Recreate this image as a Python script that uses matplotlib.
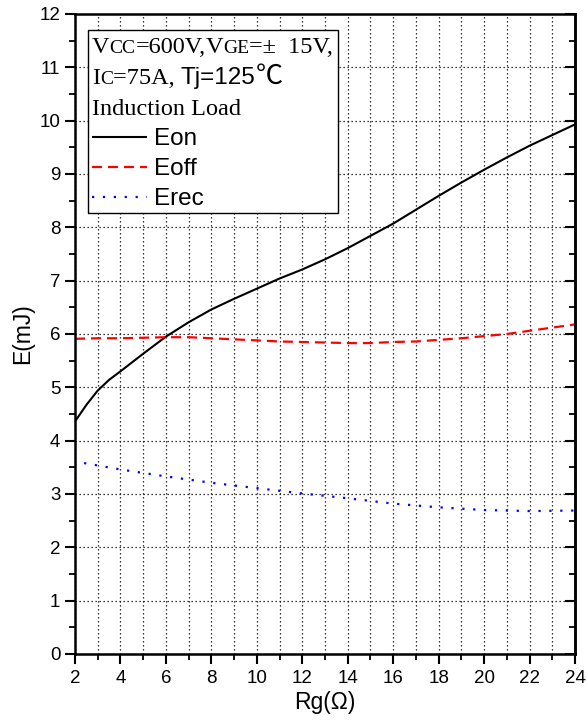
import matplotlib
matplotlib.use("Agg")
import matplotlib.pyplot as plt
from matplotlib.ticker import MultipleLocator
from matplotlib.patches import Rectangle

# ---- data ----
rg_on = [2, 2.5, 3, 3.5, 4, 5, 6, 7, 8, 9, 10, 11, 12, 13, 14, 15, 16, 17, 18, 19, 20, 21, 22, 23, 24]
eon = [4.36, 4.67, 4.94, 5.14, 5.30, 5.63, 5.95, 6.22, 6.46, 6.66, 6.85, 7.04, 7.21, 7.40, 7.61, 7.84, 8.07, 8.33, 8.59, 8.84, 9.08, 9.31, 9.53, 9.73, 9.93]
rg_off = [2, 3, 4, 5, 6, 7, 8, 9, 10, 11, 12, 13, 14, 15, 16, 17, 18, 19, 20, 21, 22, 23, 24]
eoff = [5.91, 5.92, 5.92, 5.93, 5.94, 5.94, 5.92, 5.90, 5.88, 5.86, 5.85, 5.84, 5.83, 5.83, 5.85, 5.86, 5.89, 5.92, 5.96, 6.00, 6.06, 6.12, 6.18]
rg_rec = [2.4, 4, 6, 8, 10, 12, 14, 16, 18, 20, 22, 24]
erec = [3.58, 3.46, 3.33, 3.21, 3.11, 3.01, 2.92, 2.82, 2.75, 2.70, 2.68, 2.69]
labels = ["Eon", "Eoff", "Erec"]
xlabel = "Rg(Ω)"
ylabel = "E(mJ)"

W, H = 586, 722
fig = plt.figure(figsize=(W / 100, H / 100), dpi=100)
ax = fig.add_axes([75 / W, 68 / H, 500 / W, 640 / H])

SANS = ["Liberation Sans", "DejaVu Sans"]
SERIF = ["Liberation Serif", "DejaVu Serif"]

l1, = ax.plot(rg_on, eon, color="black", lw=1.5, solid_capstyle="butt")
l2, = ax.plot(rg_off, eoff, color="red", lw=1.6, linestyle=(0, (4.5, 2.7)), dash_capstyle="butt")
l3, = ax.plot(rg_rec, erec, color="blue", lw=1.6, linestyle=(0, (1.0, 3.9)), dash_capstyle="butt")

ax.set_xlim(2, 24)
ax.set_ylim(0, 12)
ax.xaxis.set_major_locator(MultipleLocator(2))
ax.xaxis.set_minor_locator(MultipleLocator(1))
ax.yaxis.set_major_locator(MultipleLocator(1))
ax.yaxis.set_minor_locator(MultipleLocator(0.5))

gridkw = dict(color="black", lw=0.9, linestyle=(0, (1, 2.2)))
ax.grid(True, axis="x", which="both", **gridkw)
ax.grid(True, axis="y", which="major", **gridkw)
ax.set_axisbelow(True)

for s in ax.spines.values():
    s.set_linewidth(1.8)

ax.tick_params(axis="both", which="major", direction="out", length=7, width=1.5,
               labelsize=13.5)
ax.tick_params(axis="x", which="major", pad=4.5)
ax.tick_params(axis="y", which="major", pad=3.5)
ax.tick_params(axis="both", which="minor", direction="out", length=4, width=1.3)
for t in ax.get_xticklabels() + ax.get_yticklabels():
    t.set_family(SANS)

# inward ticks on the right spine
ax2 = ax.secondary_yaxis("right")
ax2.yaxis.set_major_locator(MultipleLocator(1))
ax2.yaxis.set_minor_locator(MultipleLocator(0.5))
ax2.tick_params(which="major", direction="in", length=7, width=1.5, labelright=False)
ax2.tick_params(which="minor", direction="in", length=4, width=1.3)
ax2.spines["right"].set_linewidth(1.8)

ax.set_xlabel(xlabel, fontsize=16.5, family=SANS, labelpad=3)
ax.set_ylabel(ylabel, fontsize=16.5, family=SANS, labelpad=4)

# annotation box frame
bx0, by0, bx1, by1 = 88, 30, 338, 213
fig.patches.append(Rectangle((bx0 / W, 1 - by1 / H), (bx1 - bx0) / W, (by1 - by0) / H,
                             transform=fig.transFigure, fill=True, facecolor="white",
                             edgecolor="black", lw=1.0, zorder=3))

renderer = fig.canvas.get_renderer()


def chain(x_px, y_px, pieces):
    x = x_px
    for s, fam, size in pieces:
        t = fig.text(x / W, 1 - y_px / H, s, family=fam, fontsize=size,
                     va="baseline", ha="left", zorder=4)
        bb = t.get_window_extent(renderer=renderer)
        x = bb.x1


BIG, SMALL = 17.5, 14
chain(92, 53, [("V", SERIF, BIG), ("CC", SERIF, SMALL), ("=600V,", SERIF, BIG),
               ("V", SERIF, BIG), ("GE", SERIF, SMALL), ("=±  15V,", SERIF, BIG)])
chain(92, 84, [("I", SERIF, BIG), ("C", SERIF, SMALL), ("=75A, ", SERIF, BIG),
               ("Tj=125", SANS, 17.5), ("℃", ["Noto Sans CJK SC", "DejaVu Sans"], 19.5)])
chain(92, 115, [("Induction Load", SERIF, BIG)])

leg = fig.legend([l1, l2, l3], labels, loc="upper left",
                 bbox_to_anchor=(92 / W, 1 - 128 / H), bbox_transform=fig.transFigure,
                 frameon=False, prop={"family": SANS, "size": 17.5},
                 handlelength=2.25, handletextpad=0.3, labelspacing=0.33,
                 borderpad=0, borderaxespad=0)
leg.set_zorder(5)

fig.savefig("out.png", dpi=100)
